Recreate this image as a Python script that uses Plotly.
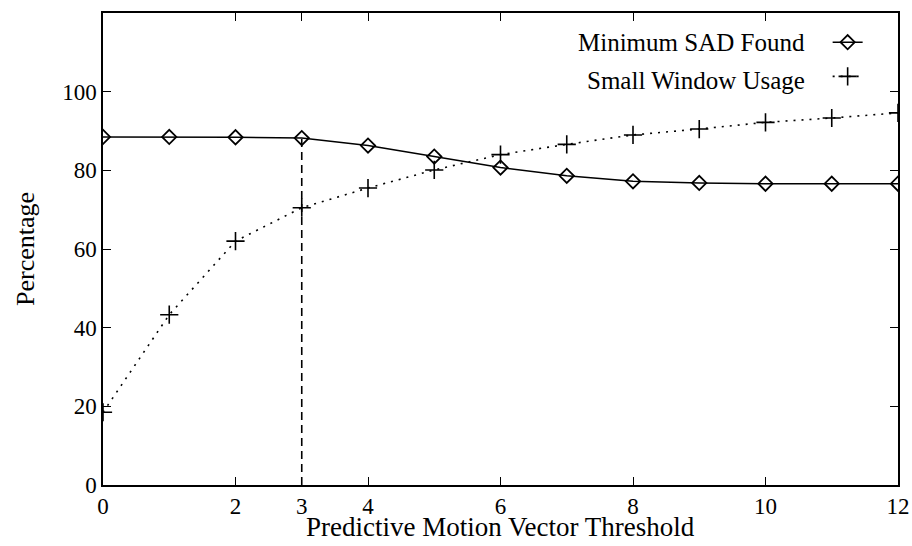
import plotly.graph_objects as go

thresholds = [0, 1, 2, 3, 4, 5, 6, 7, 8, 9, 10, 11, 12]
min_sad_found = [88.5, 88.5, 88.4, 88.2, 86.3, 83.5, 80.7, 78.6, 77.2, 76.8, 76.6, 76.6, 76.6]
small_window_usage = [18.5, 43.3, 62.0, 70.5, 75.5, 80.1, 84.0, 86.6, 89.0, 90.5, 92.2, 93.3, 94.6]
chosen_threshold = 3
x_ticks = [0, 2, 3, 4, 6, 8, 10, 12]
y_ticks = [0, 20, 40, 60, 80, 100]
series_names = ["Minimum SAD Found", "Small Window Usage"]
x_title = "Predictive Motion Vector Threshold"
y_title = "Percentage"

FONT = "Liberation Serif"

fig = go.Figure()
fig.add_trace(go.Scatter(
    x=thresholds, y=min_sad_found, name=" ", mode="lines+markers",
    line=dict(color="black", width=1.5),
    marker=dict(symbol="diamond-open", size=11, color="black", line=dict(width=1.8)),
))
fig.add_trace(go.Scatter(
    x=thresholds, y=small_window_usage, name="  ", mode="lines+markers",
    line=dict(color="black", width=1.6, dash="2px,6px"),
    marker=dict(symbol="cross-thin-open", size=13, color="black", line=dict(width=1.6, color="black")),
))
sad_at_chosen = min_sad_found[thresholds.index(chosen_threshold)]
fig.add_trace(go.Scatter(
    x=[chosen_threshold, chosen_threshold], y=[0, sad_at_chosen], mode="lines",
    line=dict(color="black", width=1.6, dash="8px,5px"), showlegend=False,
))

axis_common = dict(
    showgrid=False, zeroline=False, showline=True, linecolor="black", linewidth=1.5,
    mirror="ticks", ticks="inside", ticklen=8, tickcolor="black", tickwidth=1.2,
    tickfont=dict(family=FONT, size=23, color="black"), automargin=False,
)
fig.update_xaxes(range=[0, 12], tickvals=x_ticks, ticktext=[str(t) for t in x_ticks],
                 ticklabelstandoff=0, **axis_common)
fig.update_yaxes(range=[0, 120], tickvals=y_ticks, ticktext=[str(t) for t in y_ticks],
                 title=dict(text=y_title, font=dict(family=FONT, size=26, color="black"),
                            standoff=20),
                 **axis_common)

# x-axis title placed as text just under the tick labels (tight spacing as in the reference)
fig.add_annotation(
    xref="paper", yref="paper", x=0.5, y=0, yshift=-42,
    xanchor="center", yanchor="middle", showarrow=False,
    text=x_title, font=dict(family=FONT, size=27, color="black"),
)

fig.update_layout(
    width=912, height=546,
    margin=dict(l=103, r=14, t=13, b=61),
    paper_bgcolor="white", plot_bgcolor="white",
    font=dict(family=FONT, size=24, color="black"),
    showlegend=True,
    legend=dict(x=0.9115, y=0.985, xanchor="left", yanchor="top",
                bgcolor="rgba(0,0,0,0)", font=dict(family=FONT, size=24),
                tracegroupgap=0, itemwidth=30),
)
# legend labels as text placed left of the legend samples (reference shows sample on the right)
for i, name in enumerate(series_names):
    fig.add_annotation(
        xref="paper", yref="paper", x=0.885, y=0.937 - i * 0.0805,
        xanchor="right", yanchor="middle", showarrow=False,
        text=name, font=dict(family=FONT, size=25, color="black"),
    )

fig.write_html("out.html", config={"displayModeBar": False},
               post_script="document.body.style.margin='0';document.body.style.overflow='hidden';")
